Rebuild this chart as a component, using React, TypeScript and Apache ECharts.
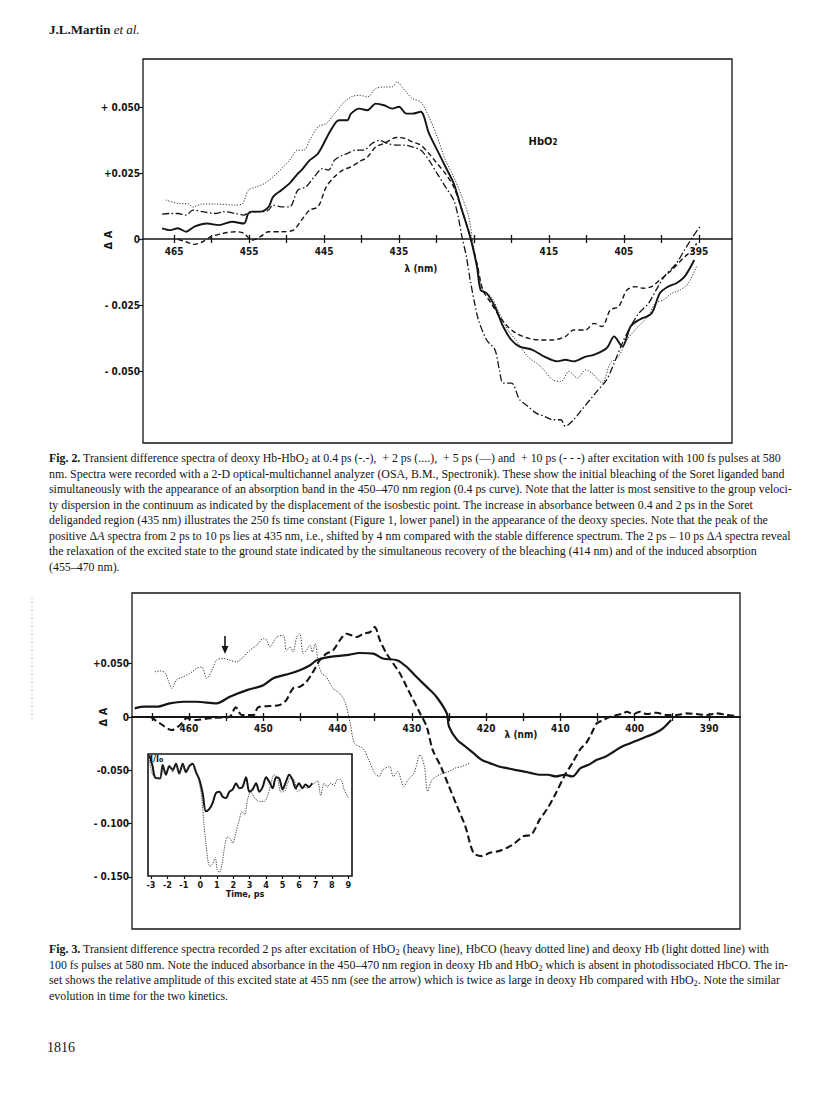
import React, { useEffect, useRef } from "react";
import * as echarts from "echarts";

// ---------------- Fig. 2 : [wavelength (nm), ΔA] ----------------
const fig2Ps04: number[][] = [
  [466.6, 0.0096], [465.5, 0.0098], [464.5, 0.0098], [463.4, 0.0092], [462.5, 0.0111], [461.2, 0.0105],
  [459.5, 0.0098], [458.4, 0.0105], [456.8, 0.0098], [455.7, 0.0092], [455.1, 0.0098], [454.0, 0.0105],
  [452.9, 0.0105], [452.4, 0.0111], [451.8, 0.013], [450.7, 0.0123], [449.6, 0.0123], [448.5, 0.0186],
  [447.4, 0.0199], [446.3, 0.0237], [445.2, 0.0268], [444.4, 0.0262], [443.6, 0.03], [442.5, 0.0319],
  [441.9, 0.0325], [440.8, 0.0338], [439.7, 0.0338], [438.6, 0.0363], [437.6, 0.0375], [436.5, 0.0363],
  [435.3, 0.0357], [434.2, 0.0357], [433.2, 0.035], [432.1, 0.0338], [431.0, 0.03], [429.9, 0.0249],
  [428.8, 0.0199], [427.7, 0.0149], [427.1, 0.0086], [426.6, 0.001], [426.0, -0.0066], [425.5, -0.0154],
  [424.9, -0.0242], [424.4, -0.0305], [423.3, -0.0381], [422.2, -0.0418], [421.6, -0.0494], [421.1, -0.0544],
  [420.0, -0.0544], [418.9, -0.0607], [417.8, -0.0632], [416.7, -0.0658], [415.6, -0.067], [414.5, -0.0683],
  [413.4, -0.0683], [412.8, -0.0708], [411.7, -0.0683], [410.6, -0.0645], [409.5, -0.0607], [408.4, -0.0569],
  [407.3, -0.0532], [406.3, -0.0469], [405.2, -0.0393], [404.1, -0.033], [403.0, -0.028], [401.7, -0.0242],
  [400.7, -0.0192], [399.6, -0.0141], [398.0, -0.0091], [396.9, -0.004], [395.8, 0.001], [394.7, 0.0054],
];
const fig2Ps2: number[][] = [
  [466.1, 0.0149], [464.5, 0.0136], [463.1, 0.0134], [462.5, 0.0123], [461.2, 0.0134], [459.5, 0.0134],
  [456.8, 0.013], [455.9, 0.0134], [455.1, 0.0186], [454.0, 0.0199], [452.9, 0.0212], [451.8, 0.0237],
  [450.4, 0.0275], [449.6, 0.03], [448.5, 0.0338], [447.7, 0.0338], [446.9, 0.0376], [445.8, 0.0426],
  [444.7, 0.0439], [443.6, 0.0476], [442.5, 0.0514], [441.4, 0.0539], [440.3, 0.0546], [439.2, 0.0539],
  [438.1, 0.0571], [437.0, 0.0577], [435.9, 0.0577], [435.3, 0.0596], [434.2, 0.0564], [433.2, 0.0533],
  [432.1, 0.052], [431.0, 0.0464], [429.9, 0.0388], [428.8, 0.03], [427.7, 0.0237], [426.6, 0.0161],
  [425.7, 0.0086], [425.2, -0.0003], [424.6, -0.0091], [423.8, -0.0192], [422.7, -0.0217], [421.6, -0.028],
  [420.5, -0.0343], [419.4, -0.0381], [417.8, -0.0444], [416.1, -0.0481], [414.5, -0.0532], [413.4, -0.0538],
  [412.3, -0.05], [411.2, -0.0525], [410.1, -0.0494], [409.0, -0.0513], [407.9, -0.0544], [406.8, -0.0469],
  [405.7, -0.0444], [404.6, -0.0381], [403.5, -0.0343], [401.8, -0.0292], [400.8, -0.0242], [399.7, -0.0229],
  [398.6, -0.0204], [397.5, -0.0192], [396.4, -0.0166], [395.3, -0.0103],
];
const fig2Ps5: number[][] = [
  [466.6, 0.0042], [465.5, 0.0035], [464.5, 0.0042], [463.4, 0.0029], [462.3, 0.0048], [460.6, 0.006],
  [459.0, 0.0054], [457.3, 0.0067], [455.7, 0.006], [455.1, 0.0098], [454.6, 0.0105], [453.5, 0.0105],
  [452.4, 0.0123], [451.8, 0.0161], [450.7, 0.0186], [449.6, 0.0212], [448.5, 0.0249], [448.0, 0.0262],
  [446.9, 0.03], [445.8, 0.0325], [444.1, 0.0413], [443.0, 0.0451], [441.9, 0.0451], [441.4, 0.0476],
  [440.3, 0.0495], [439.2, 0.0489], [438.1, 0.0514], [437.0, 0.0508], [435.9, 0.0495], [435.0, 0.0502],
  [434.0, 0.0476], [433.2, 0.0476], [432.1, 0.0483], [431.0, 0.0401], [429.9, 0.0338], [428.8, 0.0275],
  [427.7, 0.0212], [426.6, 0.0111], [425.5, 0.001], [424.6, -0.0103], [424.1, -0.0192], [423.3, -0.0204],
  [422.2, -0.0255], [421.1, -0.033], [420.0, -0.0381], [418.9, -0.0406], [417.2, -0.0418], [415.6, -0.0444],
  [413.9, -0.0462], [412.8, -0.0456], [411.7, -0.0462], [410.1, -0.0444], [409.0, -0.0437], [407.3, -0.0412],
  [406.3, -0.0368], [405.2, -0.0406], [404.1, -0.033], [403.0, -0.0305], [401.3, -0.028], [400.2, -0.0204],
  [399.1, -0.0179], [398.0, -0.0166], [396.9, -0.0141], [395.6, -0.0078],
];
const fig2Ps10: number[][] = [
  [464.5, 0.0], [463.4, -0.0009], [462.3, -0.0019], [461.2, -0.0009], [460.1, 0.001], [458.4, 0.0023],
  [456.8, 0.0029], [455.7, 0.0023], [454.6, -0.0003], [453.5, 0.001], [452.4, 0.0029], [450.7, 0.0029],
  [449.1, 0.0035], [448.0, 0.0073], [446.9, 0.0111], [445.8, 0.0123], [444.7, 0.0199], [443.6, 0.0237],
  [442.5, 0.0262], [441.4, 0.0275], [440.3, 0.0294], [439.2, 0.0312], [438.1, 0.035], [437.0, 0.0363],
  [435.3, 0.0386], [434.2, 0.0382], [433.2, 0.0369], [432.1, 0.0357], [431.0, 0.0325], [429.9, 0.0287],
  [428.8, 0.0249], [427.7, 0.0199], [426.6, 0.0111], [425.5, 0.001], [424.6, -0.0091], [423.8, -0.0192],
  [422.7, -0.0242], [421.6, -0.0292], [420.5, -0.033], [419.4, -0.0355], [417.8, -0.0374], [416.1, -0.0381],
  [414.5, -0.0381], [412.8, -0.0368], [411.7, -0.0343], [410.1, -0.0343], [409.0, -0.0318], [407.9, -0.033],
  [406.8, -0.0267], [405.7, -0.0255], [404.6, -0.0192], [403.5, -0.0179], [402.4, -0.0185], [401.3, -0.0179],
  [400.2, -0.0154], [398.6, -0.0116], [396.9, -0.0066], [395.8, -0.004], [395.3, -0.0015],
];
const fig2XTicks = [465, 460, 455, 450, 445, 440, 435, 430, 425, 420, 415, 410, 405, 400, 395];
const fig2XLabels = [465, 455, 445, 435, 415, 405, 395];
const fig2YTicks = [0.05, 0.025, 0, -0.025, -0.05];
const fig2YLabels = ["+ 0.050", "+0.025", "0", "- 0.025", "- 0.050"];

// ---------------- Fig. 3 : [wavelength (nm), ΔA] ----------------
const fig3HbO2: number[][] = [
  [467.3, 0.0081], [466.2, 0.0097], [464.3, 0.0097], [462.6, 0.0128], [460.8, 0.0143], [459.0, 0.0143],
  [456.3, 0.0128], [454.5, 0.019], [452.2, 0.0252], [450.0, 0.0299], [448.7, 0.0362], [446.4, 0.0408],
  [445.1, 0.0439], [443.7, 0.0486], [442.8, 0.0533], [441.0, 0.0564], [438.8, 0.058], [437.0, 0.0601],
  [435.2, 0.0595], [433.9, 0.0549], [432.0, 0.0533], [430.7, 0.047], [429.4, 0.0377], [428.0, 0.0283],
  [426.7, 0.019], [425.3, 0.0035], [425.0, -0.009], [423.9, -0.0215], [422.8, -0.0277], [421.7, -0.034],
  [420.6, -0.0402], [419.5, -0.0433], [418.3, -0.0465], [417.2, -0.048], [416.1, -0.0496], [415.0, -0.0511],
  [413.9, -0.0527], [412.8, -0.0542], [411.7, -0.0542], [410.6, -0.0558], [409.5, -0.0542], [408.4, -0.0558],
  [407.3, -0.048], [406.2, -0.0449], [405.1, -0.0402], [403.9, -0.0371], [402.8, -0.0324], [401.7, -0.0277],
  [400.6, -0.0246], [399.5, -0.0215], [398.4, -0.0184], [397.3, -0.0153], [396.2, -0.0106], [395.1, -0.0028],
];
const fig3HbCO: number[][] = [
  [465.2, 0.0003], [463.9, -0.0059], [462.3, -0.0122], [461.2, -0.0075], [460.3, -0.0012], [459.0, -0.0028],
  [457.2, -0.0012], [455.4, -0.0003], [454.5, 0.0003], [453.7, 0.009], [452.9, 0.0019], [451.3, 0.0019],
  [450.7, 0.009], [449.1, 0.0103], [447.8, 0.0112], [446.9, 0.0159], [446.0, 0.0268], [445.1, 0.0283],
  [444.2, 0.033], [443.3, 0.0424], [442.4, 0.0533], [441.5, 0.0595], [440.6, 0.0626], [439.7, 0.072],
  [438.8, 0.0782], [437.4, 0.0751], [436.5, 0.0782], [435.6, 0.0798], [435.0, 0.0844], [434.3, 0.072],
  [433.4, 0.0595], [432.5, 0.0502], [431.6, 0.0408], [430.7, 0.0283], [429.8, 0.0159], [428.9, 0.0035],
  [428.0, -0.0091], [427.2, -0.0309], [426.1, -0.0465], [425.0, -0.0652], [423.9, -0.0839], [422.8, -0.1026],
  [421.7, -0.1275], [420.6, -0.1306], [419.5, -0.1275], [418.3, -0.1259], [417.2, -0.1228], [416.1, -0.1182],
  [415.0, -0.1119], [413.9, -0.1104], [412.8, -0.0963], [411.7, -0.0854], [410.6, -0.0714], [409.5, -0.0558],
  [408.4, -0.0433], [407.3, -0.03], [406.5, -0.024], [405.8, -0.0153], [405.1, -0.0059], [404.2, -0.0028],
  [403.3, 0.0003], [402.4, 0.0019], [401.5, 0.0034], [401.1, 0.005], [400.2, 0.0028], [399.3, 0.005],
  [398.4, 0.0028], [397.1, 0.004], [395.7, 0.0019], [394.4, 0.0019], [393.0, 0.0034], [391.7, 0.0028],
  [390.3, 0.0019], [389.0, 0.0034], [387.6, 0.0019], [386.2, 0.0009],
];
const fig3DeoxyHb: number[][] = [
  [464.6, 0.0424], [463.9, 0.0433], [463.2, 0.0414], [462.8, 0.0346], [462.3, 0.0268], [461.7, 0.0346],
  [460.8, 0.0377], [459.9, 0.0408], [459.0, 0.0455], [458.3, 0.047], [457.6, 0.0362], [456.9, 0.044],
  [456.3, 0.0533], [455.4, 0.0549], [454.5, 0.0533], [453.6, 0.0517], [452.7, 0.0564], [451.8, 0.0626],
  [450.9, 0.0673], [450.0, 0.0735], [449.5, 0.072], [449.1, 0.0658], [448.2, 0.0751], [447.3, 0.0767],
  [446.9, 0.0626], [446.4, 0.0658], [446.0, 0.0611], [445.5, 0.0751], [445.1, 0.0782], [444.6, 0.0595],
  [444.2, 0.0626], [443.7, 0.0673], [443.4, 0.0611], [443.0, 0.0689], [442.6, 0.0502], [442.1, 0.0408],
  [441.5, 0.0377], [440.6, 0.0268], [439.7, 0.0221], [439.0, 0.0143], [438.3, -0.0059], [437.7, -0.025],
  [436.6, -0.0293], [435.8, -0.0402], [435.0, -0.0527], [434.4, -0.0558], [433.9, -0.0496], [433.0, -0.0465],
  [432.5, -0.0558], [431.9, -0.0511], [431.1, -0.0652], [430.5, -0.0589], [429.7, -0.0527], [428.9, -0.0355],
  [428.3, -0.0465], [427.9, -0.0698], [427.3, -0.0589], [426.7, -0.0558], [425.8, -0.0527], [425.0, -0.0511],
  [424.2, -0.048], [423.3, -0.0465], [422.2, -0.0433],
];
const fig3XTicks = [465, 460, 455, 450, 445, 440, 435, 430, 425, 420, 415, 410, 405, 400, 395, 390];
const fig3XLabels = [460, 450, 440, 430, 420, 410, 400, 390];
const fig3YTicks = [0.05, 0, -0.05, -0.1, -0.15];
const fig3YLabels = ["+0.050", "0", "-0.050", "- 0.100", "- 0.150"];

// ---------------- Fig. 3 inset : [time (ps), relative I/I0] ----------------
const insetHbO2: number[][] = [
  [-3.1, 0.99], [-2.9, 0.9], [-2.76, 0.81], [-2.45, 0.8], [-2.29, 0.91], [-2.09, 0.83], [-1.89, 0.9],
  [-1.68, 0.87], [-1.48, 0.92], [-1.28, 0.84], [-1.07, 0.92], [-0.87, 0.85], [-0.67, 0.9], [-0.47, 0.92],
  [-0.26, 0.85], [-0.06, 0.79], [0.14, 0.68], [0.34, 0.53], [0.55, 0.55], [0.75, 0.6], [0.95, 0.68],
  [1.16, 0.69], [1.36, 0.65], [1.56, 0.64], [1.76, 0.69], [1.97, 0.71], [2.17, 0.76], [2.37, 0.72],
  [2.57, 0.73], [2.78, 0.81], [2.98, 0.69], [3.18, 0.71], [3.39, 0.76], [3.59, 0.69], [3.79, 0.73],
  [4.0, 0.81], [4.2, 0.77], [4.4, 0.72], [4.6, 0.81], [4.8, 0.8], [5.0, 0.71], [5.2, 0.77], [5.4, 0.83],
  [5.6, 0.79], [5.8, 0.72], [6.0, 0.76], [6.2, 0.72], [6.4, 0.75], [6.6, 0.73], [6.8, 0.76],
];
const insetDeoxyHb: number[][] = [
  [-3.1, 0.95], [-2.9, 0.83], [-2.7, 0.81], [-2.49, 0.8], [-2.29, 0.9], [-2.09, 0.85], [-1.89, 0.91],
  [-1.68, 0.85], [-1.48, 0.91], [-1.28, 0.84], [-1.07, 0.91], [-0.87, 0.87], [-0.67, 0.9], [-0.47, 0.91],
  [-0.26, 0.87], [-0.06, 0.76], [0.08, 0.65], [0.22, 0.43], [0.34, 0.27], [0.47, 0.12], [0.59, 0.08],
  [0.75, 0.1], [0.91, 0.15], [1.03, 0.05], [1.16, 0.03], [1.32, 0.1], [1.48, 0.24], [1.64, 0.32],
  [1.8, 0.31], [1.97, 0.27], [2.17, 0.36], [2.37, 0.46], [2.53, 0.53], [2.7, 0.5], [2.86, 0.62],
  [3.06, 0.69], [3.26, 0.65], [3.47, 0.62], [3.67, 0.61], [3.87, 0.61], [4.07, 0.65], [4.28, 0.75],
  [4.48, 0.83], [4.68, 0.81], [4.89, 0.69], [5.09, 0.69], [5.29, 0.75], [5.49, 0.81], [5.7, 0.79],
  [5.9, 0.69], [6.1, 0.71], [6.3, 0.73], [6.51, 0.72], [6.71, 0.74], [6.91, 0.76], [7.12, 0.78],
  [7.32, 0.66], [7.52, 0.76], [7.72, 0.73], [7.93, 0.76], [8.13, 0.74], [8.33, 0.79], [8.53, 0.79],
  [8.74, 0.71], [9.0, 0.64],
];
const insetTimeTicks = [-3, -2, -1, 0, 1, 2, 3, 4, 5, 6, 7, 8, 9];

// ---------------- texts ----------------
const headerText = "{b|J.L.Martin} {i|et al.}";
const pageNumber = "1816";
const fig2Caption = [
  "{b|Fig. 2.} Transient difference spectra of deoxy Hb-HbO{s|2} at 0.4 ps (-.-),  + 2 ps (....),  + 5 ps (—) and  + 10 ps (- - -) after excitation with 100 fs pulses at 580",
  "nm. Spectra were recorded with a 2-D optical-multichannel analyzer (OSA, B.M., Spectronik). These show the initial bleaching of the Soret liganded band",
  "simultaneously with the appearance of an absorption band in the 450–470 nm region (0.4 ps curve). Note that the latter is most sensitive to the group veloci-",
  "ty dispersion in the continuum as indicated by the displacement of the isosbestic point. The increase in absorbance between 0.4 and 2 ps in the Soret",
  "deliganded region (435 nm) illustrates the 250 fs time constant (Figure 1, lower panel) in the appearance of the deoxy species. Note that the peak of the",
  "positive Δ{i|A} spectra from 2 ps to 10 ps lies at 435 nm, i.e., shifted by 4 nm compared with the stable difference spectrum. The 2 ps – 10 ps Δ{i|A} spectra reveal",
  "the relaxation of the excited state to the ground state indicated by the simultaneous recovery of the bleaching (414 nm) and of the induced absorption",
  "(455–470 nm).",
];
const fig3Caption = [
  "{b|Fig. 3.} Transient difference spectra recorded 2 ps after excitation of HbO{s|2} (heavy line), HbCO (heavy dotted line) and deoxy Hb (light dotted line) with",
  "100 fs pulses at 580 nm. Note the induced absorbance in the 450–470 nm region in deoxy Hb and HbO{s|2} which is absent in photodissociated HbCO. The in-",
  "set shows the relative amplitude of this excited state at 455 nm (see the arrow) which is twice as large in deoxy Hb compared with HbO{s|2}. Note the similar",
  "evolution in time for the two kinetics.",
];

const AXF = "'DejaVu Sans Condensed','Liberation Sans Narrow','DejaVu Sans',sans-serif";
const SERIF = "'Liberation Serif','Times New Roman',serif";
const INK = "#151515";

function labelFor(ticks: number[], labels: string[]) {
  return (v: number) => {
    const i = ticks.findIndex((t) => Math.abs(t - v) < 1e-7);
    return i >= 0 ? labels[i] : "";
  };
}

// grid geometry (pixels) and the pixel row where ΔA = 0 lies
const G2 = { left: 143, top: 59, width: 589, height: 384, zeroY: 239 };
const G3 = { left: 132, top: 593, width: 608, height: 336, zeroY: 717 };
const GI = { left: 148, top: 754, width: 204, height: 122 };

export default function App() {
  const ref = useRef<HTMLDivElement>(null);

  useEffect(() => {
    if (!ref.current) return;
    const chart = echarts.init(ref.current, undefined, { renderer: "svg", width: 816, height: 1113 });

    const strip = (s: string) => s.replace(/\{[a-z]+\|([^}]*)\}/g, "$1");
    let capSize = 12;
    try {
      const ctx = document.createElement("canvas").getContext("2d");
      if (ctx) {
        ctx.font = `12px ${SERIF}`;
        const w = ctx.measureText(strip(fig2Caption[0])).width;
        if (w > 0) capSize = Math.max(10.5, Math.min(13.5, (12 * 734) / w));
      }
    } catch (e) {
      capSize = 12;
    }
    const capRich = {
      b: { fontWeight: "bold", fontSize: capSize, fontFamily: SERIF, fill: INK },
      i: { fontStyle: "italic", fontSize: capSize, fontFamily: SERIF, fill: INK },
      s: { fontSize: capSize * 0.7, fontFamily: SERIF, fill: INK, verticalAlign: "bottom", lineHeight: 10 },
    };
    const captionEls = (lines: string[], y0: number) =>
      lines.map((t, i) => ({
        type: "text",
        x: 49,
        y: y0 + i * 15.5,
        silent: true,
        style: {
          text: t,
          fontSize: capSize,
          fontFamily: SERIF,
          fill: INK,
          verticalAlign: "middle",
          align: "left",
          lineHeight: 15,
          rich: capRich,
        },
      }));

    const axisLabelStyle = (size: number) => ({
      fontFamily: AXF,
      fontWeight: "bold" as const,
      fontSize: size,
      color: INK,
    });

    const lineSeries = (name: string, data: number[][], xi: number, yi: number, width: number, type: any, color = INK) => ({
      name,
      type: "line",
      data,
      xAxisIndex: xi,
      yAxisIndex: yi,
      showSymbol: false,
      symbol: "none",
      smooth: 0.3,
      silent: true,
      lineStyle: { color, width, type },
      z: 3,
    });

    // wavelength axis drawn on the ΔA = 0 row: a bottom axis (ticks down, labels) and a top axis (ticks up)
    const waveAxes = (gi: number, G: any, min: number, max: number, ticks: number[], labels: number[], lw: number, margin: number) => [
      {
        gridIndex: gi, type: "value", min, max, inverse: true, position: "bottom",
        offset: -(G.top + G.height - G.zeroY),
        axisLine: { show: true, onZero: false, lineStyle: { color: INK, width: lw } },
        axisTick: { show: true, customValues: ticks, length: 4, lineStyle: { color: INK, width: 1.3 } },
        axisLabel: { show: true, customValues: labels, margin, ...axisLabelStyle(10), formatter: (v: number) => String(v) },
        splitLine: { show: false },
      },
      {
        gridIndex: gi, type: "value", min, max, inverse: true, position: "top",
        offset: -(G.zeroY - G.top),
        axisLine: { show: false, onZero: false },
        axisTick: { show: true, customValues: ticks, length: 4, lineStyle: { color: INK, width: 1.3 } },
        axisLabel: { show: false },
        splitLine: { show: false },
      },
    ];

    const option: any = {
      animation: false,
      backgroundColor: "#ffffff",
      grid: [
        { left: G2.left, top: G2.top, width: G2.width, height: G2.height, show: true, borderColor: INK, borderWidth: 1.3, backgroundColor: "transparent" },
        { left: G3.left, top: G3.top, width: G3.width, height: G3.height, show: true, borderColor: INK, borderWidth: 1.3, backgroundColor: "transparent" },
        { left: GI.left, top: GI.top, width: GI.width, height: GI.height, show: true, borderColor: INK, borderWidth: 1.6, backgroundColor: "#ffffff", z: 4 },
      ],
      xAxis: [
        ...waveAxes(0, G2, 390.57, 469.15, fig2XTicks, fig2XLabels, 1.6, 7),
        ...waveAxes(1, G3, 385.83, 467.67, fig3XTicks, fig3XLabels, 2, 6),
        {
          gridIndex: 2, type: "value", min: -3.18, max: 9.22,
          axisLine: { show: false, onZero: false },
          axisTick: { show: true, customValues: insetTimeTicks, length: 3, lineStyle: { color: INK, width: 1.2 } },
          axisLabel: { show: true, customValues: insetTimeTicks, margin: 4, ...axisLabelStyle(9), formatter: (v: number) => String(v) },
          splitLine: { show: false },
        },
      ],
      yAxis: [
        {
          gridIndex: 0, type: "value", min: -0.0771, max: 0.0683,
          axisLine: { show: false },
          axisTick: { show: true, customValues: fig2YTicks, length: 4, lineStyle: { color: INK, width: 1.2 } },
          axisLabel: { show: true, customValues: fig2YTicks, margin: 3, ...axisLabelStyle(10), formatter: labelFor(fig2YTicks, fig2YLabels) },
          splitLine: { show: false },
        },
        {
          gridIndex: 1, type: "value", min: -0.199, max: 0.1164,
          axisLine: { show: false },
          axisTick: { show: true, customValues: fig3YTicks, length: 4, lineStyle: { color: INK, width: 1.2 } },
          axisLabel: { show: true, customValues: fig3YTicks, margin: 3, ...axisLabelStyle(10), formatter: labelFor(fig3YTicks, fig3YLabels) },
          splitLine: { show: false },
        },
        {
          gridIndex: 2, type: "value", min: 0, max: 1,
          axisLine: { show: false }, axisTick: { show: false }, axisLabel: { show: false }, splitLine: { show: false },
        },
      ],
      series: [
        lineSeries("0.4 ps", fig2Ps04, 0, 0, 1.3, [7, 2.5, 1.5, 2.5]),
        lineSeries("2 ps", fig2Ps2, 0, 0, 1, [1.2, 1.6], "#333"),
        lineSeries("5 ps", fig2Ps5, 0, 0, 1.9, "solid"),
        lineSeries("10 ps", fig2Ps10, 0, 0, 1.4, [5, 3]),
        lineSeries("HbO2", fig3HbO2, 2, 1, 2.2, "solid"),
        lineSeries("HbCO", fig3HbCO, 2, 1, 2.1, [7, 3.5]),
        lineSeries("deoxy Hb", fig3DeoxyHb, 2, 1, 1, [1.2, 1.5], "#333"),
        { ...lineSeries("inset HbO2", insetHbO2, 4, 2, 2, "solid"), z: 6 },
        { ...lineSeries("inset deoxy Hb", insetDeoxyHb, 4, 2, 1, [1.2, 1.2], "#444"), z: 6 },
      ],
      graphic: {
        elements: [
          {
            type: "text", x: 49, y: 29, silent: true,
            style: {
              text: headerText, fontSize: 13, fontFamily: SERIF, fill: INK, verticalAlign: "middle",
              rich: {
                b: { fontWeight: "bold", fontSize: 13, fontFamily: SERIF, fill: INK },
                i: { fontStyle: "italic", fontSize: 13, fontFamily: SERIF, fill: INK },
              },
            },
          },
          // Fig. 2 annotations
          {
            type: "text", x: 108, y: 240, rotation: Math.PI / 2, silent: true,
            style: { text: "Δ A", fontFamily: AXF, fontWeight: "bold", fontSize: 11, fill: INK, align: "center", verticalAlign: "middle" },
          },
          {
            type: "text", x: 421, y: 268, silent: true,
            style: { text: "λ (nm)", fontFamily: AXF, fontWeight: "bold", fontSize: 10, fill: INK, align: "center", verticalAlign: "middle" },
          },
          {
            type: "text", x: 543, y: 141, silent: true,
            style: {
              text: "{b|HbO}{s|2}", fontFamily: AXF, fontWeight: "bold", fontSize: 11, fill: INK, align: "center", verticalAlign: "middle",
              rich: {
                b: { fontFamily: AXF, fontWeight: "bold", fontSize: 11, fill: INK },
                s: { fontFamily: AXF, fontWeight: "bold", fontSize: 8, fill: INK, verticalAlign: "bottom", lineHeight: 8 },
              },
            },
          },
          // Fig. 3 annotations
          {
            type: "text", x: 103, y: 717, rotation: Math.PI / 2, silent: true,
            style: { text: "Δ A", fontFamily: AXF, fontWeight: "bold", fontSize: 11, fill: INK, align: "center", verticalAlign: "middle" },
          },
          {
            type: "text", x: 521, y: 734, silent: true,
            style: { text: "λ (nm)", fontFamily: AXF, fontWeight: "bold", fontSize: 10, fill: INK, align: "center", verticalAlign: "middle" },
          },
          { type: "line", silent: true, shape: { x1: 225, y1: 636, x2: 225, y2: 648 }, style: { stroke: INK, lineWidth: 1.6 } },
          { type: "polygon", silent: true, shape: { points: [[221.5, 646], [228.5, 646], [225, 654]] }, style: { fill: INK } },
          {
            type: "text", x: 150, y: 759, z: 10, silent: true,
            style: {
              text: "{b|I/I}{s|o}", fontFamily: AXF, fontWeight: "bold", fontSize: 9, fill: INK, verticalAlign: "middle",
              rich: {
                b: { fontFamily: AXF, fontWeight: "bold", fontSize: 9, fill: INK },
                s: { fontFamily: AXF, fontWeight: "bold", fontSize: 7, fill: INK, verticalAlign: "bottom", lineHeight: 7 },
              },
            },
          },
          {
            type: "text", x: 245, y: 894, silent: true,
            style: { text: "Time, ps", fontFamily: AXF, fontWeight: "bold", fontSize: 9, fill: INK, align: "center", verticalAlign: "middle" },
          },
          { type: "line", silent: true, shape: { x1: 32, y1: 598, x2: 32, y2: 722 }, style: { stroke: "#9a9a9a", lineWidth: 1, lineDash: [1, 3] } },
          ...captionEls(fig2Caption, 458),
          ...captionEls(fig3Caption, 949),
          {
            type: "text", x: 47, y: 1047, silent: true,
            style: { text: pageNumber, fontFamily: SERIF, fontSize: 14, fill: INK, verticalAlign: "middle" },
          },
        ],
      },
    };

    chart.setOption(option);
    return () => chart.dispose();
  }, []);

  return (
    <div
      ref={ref}
      style={{ position: "absolute", left: 0, top: 0, width: 816, height: 1113, background: "#ffffff" }}
    />
  );
}
